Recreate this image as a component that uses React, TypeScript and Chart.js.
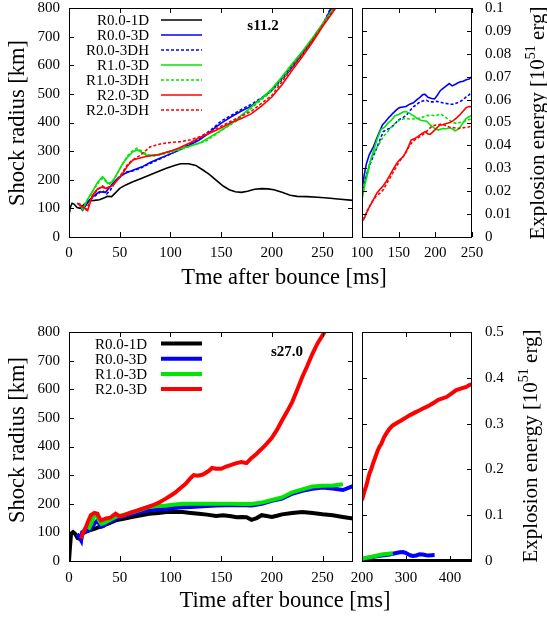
import React, { useEffect, useRef } from "react";
import { Chart, registerables } from "chart.js";
Chart.register(...registerables);

const FONT = "'Liberation Serif', 'Times New Roman', serif";
const BLUE = "#0000ff";
const GREEN = "#00e600";
const RED = "#ff0000";
const BLACK = "#000000";

type P = [number, number];

// ---------- s11.2 shock radius [ms, km] ----------
const s11_R00_1D: P[] = [[0,77],[1.5,105],[3,118],[5,115],[8,103],[11,100],[15,115],[20,127],[25,128],[30,130],[35,137],[38,142],[42,141],[46,155],[50,170],[56,182],[63,193],[70,203],[79,216],[88,229],[96,240],[104,250],[110,256],[118,256],[125,250],[132,234],[138,220],[145,199],[152,178],[158,165],[164,158],[170,156],[176,160],[183,167],[190,169],[196,168],[202,165],[210,156],[218,146],[225,142],[235,141],[245,139],[255,136],[265,133],[280,128]];
const s11_R00_3D: P[] = [[10,118],[13.5,94],[20,129],[25,145],[30,158],[36,156],[43,187],[49,208],[55,222],[63,233],[72,245],[80,260],[89,274],[97,286],[105,298],[117,318],[128,338],[137,360],[145,385],[152,402],[160,420],[170,440],[180,458],[190,485],[200,513],[210,555],[220,598],[230,645],[240,692],[250,742],[259,800]];
const s11_R00_3DH: P[] = [[10,115],[13,95],[20,128],[28,150],[33,162],[37,150],[41,165],[46,195],[52,215],[57,228],[62,230],[70,240],[80,257],[90,273],[100,290],[110,306],[125,337],[140,374],[150,405],[160,425],[170,446],[180,464],[190,487],[200,511],[210,550],[220,592],[230,637],[240,687],[250,740],[258,800]];
const s11_R10_3D: P[] = [[10,118],[13.5,96],[18,130],[23,158],[28,190],[33,211],[36,200],[38,187],[43,193],[48,225],[53,257],[58,280],[63,298],[67.5,304],[72,295],[76,286],[86,286],[95,295],[105,304],[118,316],[130,330],[145,362],[160,395],[170,425],[180,455],[190,485],[200,518],[210,560],[220,605],[230,648],[240,695],[250,745],[261,800]];
const s11_R10_3DH: P[] = [[10,118],[13,100],[20,140],[25,170],[30,195],[33,205],[36,195],[40,185],[45,205],[52,250],[58,285],[63,302],[67,310],[72,300],[78,285],[85,283],[95,292],[105,300],[120,318],[135,335],[150,372],[165,405],[180,450],[200,510],[220,600],[240,690],[261,800]];
const s11_R20_3D: P[] = [[8.5,118],[13.5,106],[18.4,92],[23,145],[28,168],[32,174],[36.5,170],[43,180],[48,200],[53,222],[58,250],[63,269],[70,276],[76,281],[89,288],[100,300],[109,312],[120,330],[128,346],[137,360],[145,373],[152,385],[160,400],[170,414],[180,431],[190,458],[200,489],[210,532],[220,582],[230,630],[240,680],[250,735],[263,800]];
const s11_R20_3DH: P[] = [[8,118],[13,105],[17,95],[22,135],[28,165],[33,178],[37,170],[43,180],[50,210],[57,250],[62,268],[70,285],[80,315],[90,325],[100,330],[110,333],[120,340],[130,352],[145,378],[160,405],[180,440],[200,495],[220,590],[240,688],[262,800]];

// ---------- s11.2 explosion energy [ms, 1e51 erg] ----------
const e11_R00_3D: P[] = [[100,0.0206],[103,0.027],[106,0.032],[110,0.036],[115,0.039],[120,0.043],[124,0.046],[128,0.049],[131,0.050],[136,0.052],[142,0.054],[147,0.0555],[151,0.0565],[156,0.0568],[160,0.057],[165,0.058],[170,0.0586],[175,0.060],[179,0.061],[183,0.0622],[186,0.0623],[190,0.061],[195,0.0605],[199,0.0603],[203,0.062],[207,0.064],[211,0.065],[215,0.066],[219,0.067],[223,0.066],[228,0.0668],[233,0.0677],[238,0.068],[242,0.0687],[246,0.069],[250,0.0701]];
const e11_R00_3DH: P[] = [[100,0.019],[105,0.026],[110,0.031],[115,0.035],[119,0.038],[124,0.042],[129,0.046],[134,0.047],[138,0.0474],[144,0.049],[149,0.051],[155,0.052],[160,0.053],[165,0.055],[170,0.0568],[175,0.058],[179,0.059],[184,0.0595],[188,0.0597],[192,0.059],[197,0.059],[202,0.0592],[206,0.059],[211,0.0585],[215,0.0583],[220,0.058],[224,0.058],[229,0.0585],[233,0.059],[238,0.060],[242,0.0612],[246,0.062],[250,0.0638]];
const e11_R10_3D: P[] = [[100,0.0162],[104,0.023],[108,0.028],[112,0.034],[117,0.039],[121,0.043],[126,0.047],[131,0.048],[135,0.0496],[140,0.051],[145,0.053],[150,0.0535],[156,0.0546],[160,0.0548],[165,0.054],[170,0.053],[174,0.052],[180,0.051],[188,0.0506],[193,0.049],[197,0.048],[201,0.047],[204,0.0467],[208,0.0472],[211,0.0474],[215,0.0473],[220,0.0477],[224,0.047],[227,0.0464],[231,0.047],[234,0.048],[238,0.050],[242,0.0517],[246,0.0525],[250,0.0532]];
const e11_R10_3DH: P[] = [[100,0.0177],[105,0.026],[110,0.032],[115,0.036],[120,0.039],[124,0.041],[129,0.0438],[135,0.046],[142,0.0488],[147,0.050],[151,0.051],[156,0.0515],[161,0.0517],[167,0.0515],[174,0.0517],[180,0.052],[188,0.053],[194,0.0532],[201,0.053],[205,0.0535],[208,0.0536],[213,0.0525],[219,0.051],[224,0.050],[229,0.0496],[233,0.050],[238,0.0503],[244,0.051],[250,0.0517]];
const e11_R20_3D: P[] = [[100,0.0068],[103,0.008],[106,0.0104],[110,0.013],[115,0.016],[120,0.019],[124,0.0206],[128,0.022],[133,0.0242],[138,0.027],[142,0.0293],[147,0.032],[151,0.0336],[156,0.035],[160,0.0372],[164,0.040],[167,0.0423],[172,0.043],[176,0.0438],[181,0.045],[186,0.046],[190,0.045],[193,0.0448],[197,0.046],[200,0.047],[206,0.0488],[210,0.049],[215,0.0496],[220,0.050],[224,0.0507],[229,0.052],[233,0.0532],[238,0.055],[242,0.0565],[246,0.057],[250,0.0568]];
const e11_R20_3DH: P[] = [[100,0.0075],[105,0.010],[110,0.0133],[115,0.016],[119,0.0177],[124,0.019],[129,0.0206],[133,0.023],[138,0.0257],[142,0.028],[147,0.0307],[151,0.033],[156,0.035],[160,0.037],[165,0.040],[170,0.042],[175,0.043],[179,0.0438],[184,0.045],[190,0.0467],[194,0.048],[199,0.0488],[204,0.049],[208,0.0493],[213,0.0488],[219,0.048],[225,0.0477],[231,0.0474],[236,0.0476],[240,0.0478],[245,0.048],[250,0.0484]];

// ---------- s27.0 shock radius ----------
const s27_R00_1D: P[] = [[0,0],[1,50],[2,95],[4,101],[6,95],[8.5,80],[10,78],[13,95],[17,103],[20,107],[25,112],[30,119],[38,130],[46,142],[55,148],[63,154],[71,160],[79,165],[88,168],[96,171],[104,171],[112,171],[120,168],[128,165],[136,162],[145,157],[152,160],[160,156],[165,153],[170,154],[175,153],[180,144],[185,150],[190,160],[195,157],[200,154],[205,158],[210,163],[220,168],[230,171],[240,168],[250,163],[260,160],[270,154],[280,148]];
const s27_R00_3D: P[] = [[8,95],[10,85],[12,72],[13,100],[17,104],[20,107],[23,120],[25,130],[28,142],[31.5,119],[34,122],[36,130],[41,138],[46,148],[55,158],[63,165],[71,172],[79,177],[88,180],[96,182],[104,185],[112,188],[120,189],[128,190],[136,192],[145,194],[155,195],[165,195],[175,195],[180,194],[190,200],[200,210],[210,218],[220,235],[230,245],[240,252],[250,257],[260,253],[270,248],[280,262]];
const s27_R10_3D: P[] = [[19,110],[22,130],[25,160],[27,162],[30,140],[32,130],[36,135],[41,145],[46,154],[55,163],[63,171],[71,180],[79,189],[88,192],[96,194],[104,197],[112,200],[120,200],[130,200],[140,200],[150,200],[160,200],[170,199],[180,199],[190,204],[200,213],[210,222],[220,240],[230,250],[240,260],[250,263],[260,264],[270,268]];
const s27_R20_3D: P[] = [[12,78],[14,100],[16.7,119],[19,140],[21.6,160],[25,168],[28,165],[30,150],[31.5,142],[34,145],[36,148],[41,152],[44,160],[46,165],[49,158],[52,157],[56,162],[62,171],[67,176],[72,182],[77,188],[82,194],[88,203],[95,217],[100,228],[105,240],[110,255],[115,270],[120,290],[123,300],[127,298],[132,302],[138,315],[141,325],[145,322],[150,322],[155,330],[160,336],[165,342],[170,346],[175,342],[180,360],[185,375],[190,392],[195,410],[200,430],[205,458],[210,491],[215,522],[220,555],[225,598],[230,643],[235,682],[240,724],[245,760],[252,800]];

// ---------- s27.0 explosion energy ----------
const e27_R00_1D: P[] = [[200,0],[450,0]];
const e27_R00_3D: P[] = [[200,0.004],[215,0.007],[230,0.010],[245,0.012],[263,0.014],[270,0.016],[278,0.0175],[286,0.019],[293,0.0197],[299,0.018],[305,0.0146],[311,0.012],[316,0.011],[323,0.012],[331,0.0146],[338,0.014],[346,0.0124],[352,0.012],[358,0.0128],[365,0.013]];
const e27_R10_3D: P[] = [[200,0.005],[210,0.007],[225,0.010],[235,0.012],[248,0.0146],[260,0.016],[270,0.017]];
const e27_R20_3D: P[] = [[200,0.1325],[203,0.143],[206,0.154],[210,0.165],[214,0.180],[217,0.191],[221,0.200],[225,0.2125],[230,0.226],[236,0.242],[240,0.250],[244,0.256],[250,0.270],[255,0.278],[262,0.288],[270,0.296],[280,0.302],[289,0.307],[298,0.312],[308,0.318],[320,0.324],[331,0.329],[343,0.335],[354,0.340],[364,0.346],[373,0.352],[383,0.355],[392,0.358],[404,0.366],[414,0.373],[426,0.377],[437,0.380],[444,0.384],[450,0.386]];

// ---------- ticks ----------
const radiusTicks = [0, 100, 200, 300, 400, 500, 600, 700, 800];
const radiusTickLabels = ["0", "100", "200", "300", "400", "500", "600", "700", "800"];
const timeTicksLeft = [0, 50, 100, 150, 200, 250];
const timeTickLabelsLeft = ["0", "50", "100", "150", "200", "250"];
const timeTicksTopRight = [100, 150, 200, 250];
const timeTickLabelsTopRight = ["100", "150", "200", "250"];
const timeTicksBottomRight = [200, 300, 400];
const timeTickLabelsBottomRight = ["200", "300", "400"];
const energyTicksTop = [0, 0.01, 0.02, 0.03, 0.04, 0.05, 0.06, 0.07, 0.08, 0.09, 0.1];
const energyTickLabelsTop = ["0", "0.01", "0.02", "0.03", "0.04", "0.05", "0.06", "0.07", "0.08", "0.09", "0.1"];
const energyTicksBottom = [0, 0.1, 0.2, 0.3, 0.4, 0.5];
const energyTickLabelsBottom = ["0", "0.1", "0.2", "0.3", "0.4", "0.5"];

type Series = { label: string; data: P[]; color: string; dash: number[]; width: number };

const thin = 1.6;
const thick = 4;
const dot = [3, 2];

const s11Series: Series[] = [
  { label: "R0.0-1D", data: s11_R00_1D, color: BLACK, dash: [], width: thin },
  { label: "R0.0-3D", data: s11_R00_3D, color: BLUE, dash: [], width: thin },
  { label: "R0.0-3DH", data: s11_R00_3DH, color: BLUE, dash: dot, width: thin },
  { label: "R1.0-3D", data: s11_R10_3D, color: GREEN, dash: [], width: thin },
  { label: "R1.0-3DH", data: s11_R10_3DH, color: GREEN, dash: dot, width: thin },
  { label: "R2.0-3D", data: s11_R20_3D, color: RED, dash: [], width: thin },
  { label: "R2.0-3DH", data: s11_R20_3DH, color: RED, dash: dot, width: thin },
];
const e11Series: Series[] = [
  { label: "R0.0-3D", data: e11_R00_3D, color: BLUE, dash: [], width: thin },
  { label: "R0.0-3DH", data: e11_R00_3DH, color: BLUE, dash: dot, width: thin },
  { label: "R1.0-3D", data: e11_R10_3D, color: GREEN, dash: [], width: thin },
  { label: "R1.0-3DH", data: e11_R10_3DH, color: GREEN, dash: dot, width: thin },
  { label: "R2.0-3D", data: e11_R20_3D, color: RED, dash: [], width: thin },
  { label: "R2.0-3DH", data: e11_R20_3DH, color: RED, dash: dot, width: thin },
];
const s27Series: Series[] = [
  { label: "R0.0-1D", data: s27_R00_1D, color: BLACK, dash: [], width: thick },
  { label: "R0.0-3D", data: s27_R00_3D, color: BLUE, dash: [], width: thick },
  { label: "R1.0-3D", data: s27_R10_3D, color: GREEN, dash: [], width: thick },
  { label: "R2.0-3D", data: s27_R20_3D, color: RED, dash: [], width: thick },
];
const e27Series: Series[] = [
  { label: "R0.0-1D", data: e27_R00_1D, color: BLACK, dash: [], width: thick },
  { label: "R0.0-3D", data: e27_R00_3D, color: BLUE, dash: [], width: thick },
  { label: "R1.0-3D", data: e27_R10_3D, color: GREEN, dash: [], width: thick },
  { label: "R2.0-3D", data: e27_R20_3D, color: RED, dash: [], width: thick },
];

const W = 547;

type PanelCfg = {
  canvasTop: number;
  height: number;
  area: { left: number; right: number; top: number; bottom: number }; // page coords
  yRight: boolean;
  xMin: number; xMax: number; xTicks: number[]; xLabels: string[];
  yMin: number; yMax: number; yTicks: number[]; yLabels: string[];
  xPad: number;
  series: Series[];
  decor: (ctx: CanvasRenderingContext2D) => void; // page coords
};

function drawRotated(ctx: CanvasRenderingContext2D, text: string, x: number, y: number, font: string) {
  ctx.save();
  ctx.translate(x, y);
  ctx.rotate(-Math.PI / 2);
  ctx.font = font;
  ctx.textAlign = "center";
  ctx.textBaseline = "alphabetic";
  ctx.fillStyle = "#000";
  ctx.fillText(text, 0, 0);
  ctx.restore();
}

function drawEnergyTitle(ctx: CanvasRenderingContext2D, x: number, y: number) {
  const a = "Explosion energy [10";
  const b = "51";
  const c = " erg]";
  const f1 = `21px ${FONT}`;
  const f2 = `14px ${FONT}`;
  ctx.save();
  ctx.translate(x, y);
  ctx.rotate(-Math.PI / 2);
  ctx.fillStyle = "#000";
  ctx.textBaseline = "alphabetic";
  ctx.textAlign = "left";
  ctx.font = f1;
  const w1 = ctx.measureText(a).width;
  const w3 = ctx.measureText(c).width;
  ctx.font = f2;
  const w2 = ctx.measureText(b).width;
  let sx = -(w1 + w2 + w3) / 2;
  ctx.font = f1;
  ctx.fillText(a, sx, 0);
  sx += w1;
  ctx.font = f2;
  ctx.fillText(b, sx, -9);
  sx += w2;
  ctx.font = f1;
  ctx.fillText(c, sx, 0);
  ctx.restore();
}

function drawText(ctx: CanvasRenderingContext2D, text: string, x: number, y: number, font: string, align: CanvasTextAlign) {
  ctx.save();
  ctx.font = font;
  ctx.textAlign = align;
  ctx.textBaseline = "alphabetic";
  ctx.fillStyle = "#000";
  ctx.fillText(text, x, y);
  ctx.restore();
}

function drawLegend(ctx: CanvasRenderingContext2D, series: Series[], textRight: number, x1: number, x2: number, y0: number, dy: number) {
  series.forEach((s, i) => {
    const y = y0 + i * dy;
    drawText(ctx, s.label, textRight, y + 5, `15px ${FONT}`, "right");
    ctx.save();
    ctx.strokeStyle = s.color;
    ctx.lineWidth = s.width;
    ctx.setLineDash(s.dash);
    ctx.beginPath();
    ctx.moveTo(x1, y);
    ctx.lineTo(x2, y);
    ctx.stroke();
    ctx.restore();
  });
}

function buildChart(canvas: HTMLCanvasElement, cfg: PanelCfg): Chart {
  const H = cfg.height;
  const top = cfg.area.top - cfg.canvasTop;
  const bottom = cfg.area.bottom - cfg.canvasTop;
  const xAxisH = H - bottom;
  const yW = cfg.yRight ? 60 : cfg.area.left;
  const padding = cfg.yRight
    ? { left: cfg.area.left, right: W - cfg.area.right - yW, top, bottom: 0 }
    : { left: 0, right: W - cfg.area.right, top, bottom: 0 };
  const n = cfg.series.length;
  const tickFont = { family: FONT, size: 15 };

  const decorPlugin = {
    id: "decor",
    afterDraw(chart: any) {
      const ctx: CanvasRenderingContext2D = chart.ctx;
      const a = chart.chartArea;
      const xs = chart.scales.x;
      const ys = chart.scales.y;
      ctx.save();
      ctx.strokeStyle = "#000";
      ctx.lineWidth = 1;
      ctx.setLineDash([]);
      ctx.strokeRect(a.left + 0.5, a.top + 0.5, a.right - a.left - 1, a.bottom - a.top);
      ctx.beginPath();
      const tl = 5;
      cfg.xTicks.forEach((v) => {
        const px = Math.round(xs.getPixelForValue(v)) + 0.5;
        ctx.moveTo(px, a.bottom);
        ctx.lineTo(px, a.bottom - tl);
        ctx.moveTo(px, a.top);
        ctx.lineTo(px, a.top + tl);
      });
      cfg.yTicks.forEach((v) => {
        const py = Math.round(ys.getPixelForValue(v)) + 0.5;
        ctx.moveTo(a.left, py);
        ctx.lineTo(a.left + tl, py);
        ctx.moveTo(a.right, py);
        ctx.lineTo(a.right - tl, py);
      });
      ctx.stroke();
      ctx.restore();
      ctx.save();
      ctx.translate(0, -cfg.canvasTop);
      cfg.decor(ctx);
      ctx.restore();
    },
  };

  return new Chart(canvas, {
    type: "line",
    data: {
      datasets: cfg.series.map((s, i) => ({
        label: s.label,
        data: s.data.map(([x, y]) => ({ x, y })),
        borderColor: s.color,
        backgroundColor: s.color,
        borderWidth: s.width,
        borderDash: s.dash,
        pointRadius: 0,
        fill: false,
        tension: 0,
        order: n - i,
      })),
    },
    options: {
      responsive: false,
      animation: false,
      devicePixelRatio: 1,
      events: [],
      layout: { padding },
      plugins: { legend: { display: false }, tooltip: { enabled: false }, title: { display: false } },
      scales: {
        x: {
          type: "linear",
          min: cfg.xMin,
          max: cfg.xMax,
          grid: { display: false, drawTicks: false, tickLength: 0 },
          border: { display: false },
          afterBuildTicks: (s: any) => {
            s.ticks = cfg.xTicks.map((v) => ({ value: v }));
          },
          afterFit: (s: any) => {
            s.height = xAxisH;
          },
          ticks: {
            autoSkip: false,
            maxRotation: 0,
            minRotation: 0,
            padding: cfg.xPad,
            color: "#000",
            font: tickFont,
            callback: (_v: any, i: number) => cfg.xLabels[i],
          },
        },
        y: {
          type: "linear",
          position: cfg.yRight ? "right" : "left",
          min: cfg.yMin,
          max: cfg.yMax,
          grid: { display: false, drawTicks: false, tickLength: 0 },
          border: { display: false },
          afterBuildTicks: (s: any) => {
            s.ticks = cfg.yTicks.map((v) => ({ value: v }));
          },
          afterFit: (s: any) => {
            s.width = yW;
          },
          ticks: {
            autoSkip: false,
            padding: cfg.yRight ? 13 : 9,
            color: "#000",
            font: tickFont,
            callback: (_v: any, i: number) => cfg.yLabels[i],
          },
        },
      },
    } as any,
    plugins: [decorPlugin],
  });
}

const TOP_CANVAS_TOP = -20;
const TOP_CANVAS_H = 320;
const BOT_CANVAS_TOP = 290;
const BOT_CANVAS_H = 327;

export default function App() {
  const c1 = useRef<HTMLCanvasElement>(null);
  const c2 = useRef<HTMLCanvasElement>(null);
  const c3 = useRef<HTMLCanvasElement>(null);
  const c4 = useRef<HTMLCanvasElement>(null);

  useEffect(() => {
    const titleFont = `22.5px ${FONT}`;
    const charts: Chart[] = [];
    charts.push(
      buildChart(c1.current!, {
        canvasTop: TOP_CANVAS_TOP,
        height: TOP_CANVAS_H,
        area: { left: 69, right: 353, top: 8, bottom: 237 },
        yRight: false,
        xMin: 0, xMax: 280, xTicks: timeTicksLeft, xLabels: timeTickLabelsLeft,
        yMin: 0, yMax: 800, yTicks: radiusTicks, yLabels: radiusTickLabels,
        xPad: 7,
        series: s11Series,
        decor: (ctx) => {
          drawRotated(ctx, "Shock radius [km]", 24, 123, titleFont);
          drawText(ctx, "Tme after bounce [ms]", 284, 283.5, titleFont, "center");
          drawText(ctx, "s11.2", 263, 30, `bold 15px ${FONT}`, "center");
          drawLegend(ctx, s11Series, 149, 161, 202, 20, 15);
        },
      })
    );
    charts.push(
      buildChart(c2.current!, {
        canvasTop: TOP_CANVAS_TOP,
        height: TOP_CANVAS_H,
        area: { left: 362, right: 472, top: 8, bottom: 237 },
        yRight: true,
        xMin: 100, xMax: 250, xTicks: timeTicksTopRight, xLabels: timeTickLabelsTopRight,
        yMin: 0, yMax: 0.1, yTicks: energyTicksTop, yLabels: energyTickLabelsTop,
        xPad: 7,
        series: e11Series,
        decor: (ctx) => {
          drawEnergyTitle(ctx, 544, 123);
        },
      })
    );
    charts.push(
      buildChart(c3.current!, {
        canvasTop: BOT_CANVAS_TOP,
        height: BOT_CANVAS_H,
        area: { left: 69, right: 353, top: 332, bottom: 561 },
        yRight: false,
        xMin: 0, xMax: 280, xTicks: timeTicksLeft, xLabels: timeTickLabelsLeft,
        yMin: 0, yMax: 800, yTicks: radiusTicks, yLabels: radiusTickLabels,
        xPad: 8,
        series: s27Series,
        decor: (ctx) => {
          drawRotated(ctx, "Shock radius [km]", 24, 440, titleFont);
          drawText(ctx, "Time after bounce [ms]", 285, 607, titleFont, "center");
          drawText(ctx, "s27.0", 287, 356, `bold 15px ${FONT}`, "center");
          drawLegend(ctx, s27Series, 147, 161, 202, 343.5, 15.2);
        },
      })
    );
    charts.push(
      buildChart(c4.current!, {
        canvasTop: BOT_CANVAS_TOP,
        height: BOT_CANVAS_H,
        area: { left: 362, right: 472, top: 332, bottom: 561 },
        yRight: true,
        xMin: 200, xMax: 450, xTicks: timeTicksBottomRight, xLabels: timeTickLabelsBottomRight,
        yMin: 0, yMax: 0.5, yTicks: energyTicksBottom, yLabels: energyTickLabelsBottom,
        xPad: 8,
        series: e27Series,
        decor: (ctx) => {
          drawEnergyTitle(ctx, 537, 446);
        },
      })
    );
    return () => charts.forEach((c) => c.destroy());
  }, []);

  const cs = (top: number): React.CSSProperties => ({ position: "absolute", left: 0, top, display: "block" });
  return (
    <div style={{ position: "absolute", left: 0, top: 0, width: W, height: 617, overflow: "hidden", background: "#fff" }}>
      <canvas ref={c1} width={W} height={TOP_CANVAS_H} style={cs(TOP_CANVAS_TOP)} />
      <canvas ref={c2} width={W} height={TOP_CANVAS_H} style={cs(TOP_CANVAS_TOP)} />
      <canvas ref={c3} width={W} height={BOT_CANVAS_H} style={cs(BOT_CANVAS_TOP)} />
      <canvas ref={c4} width={W} height={BOT_CANVAS_H} style={cs(BOT_CANVAS_TOP)} />
    </div>
  );
}
